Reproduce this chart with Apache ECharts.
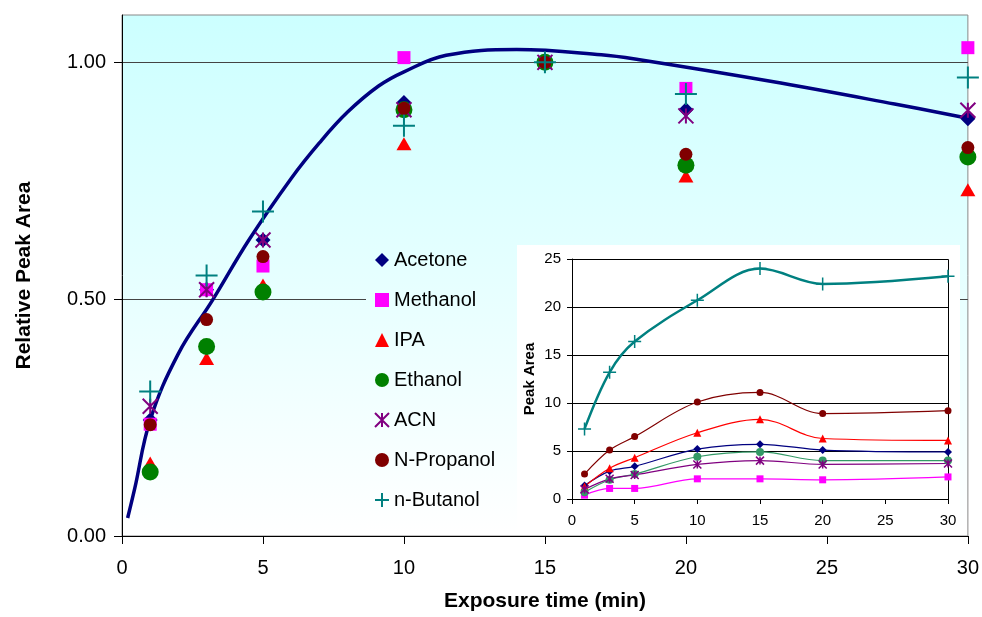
<!DOCTYPE html>
<html><head><meta charset="utf-8">
<script src="https://cdn.jsdelivr.net/npm/echarts@6/dist/echarts.min.js"></script>
<style>html,body{margin:0;padding:0;background:#fff}#c{width:982px;height:617px}</style>
</head><body><div id="c"></div>
<script>
// ---------- data ----------
const times = [1, 3, 5, 10, 15, 20, 30];
const seriesNames = ['Acetone', 'Methanol', 'IPA', 'Ethanol', 'ACN', 'N-Propanol', 'n-Butanol'];

// relative peak area (main chart)
const acetoneRel  = [0.245, 0.52, 0.625, 0.915, 1.00, 0.900, 0.881];
const methanolRel = [0.236, 0.52, 0.570, 1.010, 1.00, 0.945, 1.031];
const ipaRel      = [0.154, 0.375, 0.530, 0.828, 1.00, 0.760, 0.731];
const ethanolRel  = [0.135, 0.400, 0.515, 0.900, 1.00, 0.783, 0.800];
const acnRel      = [0.274, 0.520, 0.625, 0.900, 1.00, 0.887, 0.899];
const propanolRel = [0.235, 0.457, 0.590, 0.903, 1.00, 0.806, 0.820];
const butanolRel  = [0.305, 0.550, 0.685, 0.866, 1.00, 0.933, 0.968];

// fitted curve (main chart)
const fitTime = [0.2, 0.45, 1, 2, 3.2, 4.5, 6, 7, 8, 9.1, 10, 11.5, 14, 17, 18.3, 23, 27.4, 30];
const fitRel  = [0.038, 0.10, 0.245, 0.385, 0.497, 0.625, 0.755, 0.83, 0.895, 0.95, 0.98, 1.015, 1.027, 1.016, 1.006, 0.96, 0.912, 0.882];

// peak area (inset)
const acetoneArea  = [1.4, 2.9, 3.4, 5.2, 5.7, 5.1, 4.9];
const methanolArea = [0.4, 1.1, 1.1, 2.1, 2.1, 2.0, 2.3];
const ipaArea      = [1.3, 3.2, 4.3, 6.9, 8.3, 6.3, 6.1];
const ethanolArea  = [0.7, 2.0, 2.6, 4.4, 4.9, 4.0, 4.0];
const acnArea      = [1.0, 2.1, 2.5, 3.6, 4.0, 3.6, 3.7];
const propanolArea = [2.6, 5.1, 6.5, 10.1, 11.1, 8.9, 9.2];
const butanolArea  = [7.3, 13.2, 16.4, 20.7, 24.0, 22.4, 23.2];

const mainYTicks = [0, 0.5, 1.0];

// ---------- build ----------
const FONT = "'Liberation Sans', Arial, Helvetica, sans-serif";
const pair = (xs, ys) => xs.map((x, i) => [x, ys[i]]);
const STAR = 'path://M0,0L10,10M10,0L0,10M5,0L5,10';
const PLUS = 'path://M5,0L5,10M0,5L10,5';

const rel = [acetoneRel, methanolRel, ipaRel, ethanolRel, acnRel, propanolRel, butanolRel];
const area = [acetoneArea, methanolArea, ipaArea, ethanolArea, acnArea, propanolArea, butanolArea];
const sty = [
  {color: '#000080', inColor: '#000080', symbol: 'diamond', size: 15, inSize: 8, stroke: 0},
  {color: '#ff00ff', inColor: '#ff00ff', symbol: 'rect', size: 13, inSize: 7, stroke: 0},
  {color: '#ff0000', inColor: '#ff0000', symbol: 'triangle', size: [15, 13], inSize: 8, stroke: 0},
  {color: '#008000', inColor: '#339966', symbol: 'circle', size: 17, inSize: 8, stroke: 0},
  {color: '#800080', inColor: '#800080', symbol: STAR, size: 15, inSize: 8, stroke: 2},
  {color: '#800000', inColor: '#800000', symbol: 'circle', size: 13, inSize: 7, stroke: 0},
  {color: '#008080', inColor: '#008080', symbol: PLUS, size: 22, inSize: 13, stroke: 2}
];

const series = [{
  type: 'line', name: 'fit', xAxisIndex: 0, yAxisIndex: 0,
  data: pair(fitTime, fitRel), symbol: 'none', smooth: 0.4,
  lineStyle: {color: '#000080', width: 3.5}, z: 1, silent: true
}];
seriesNames.forEach((n, i) => {
  const s = sty[i];
  series.push({
    type: 'scatter', name: n, xAxisIndex: 0, yAxisIndex: 0,
    data: pair(times, rel[i]), symbol: s.symbol, symbolSize: s.size,
    itemStyle: {color: s.color, borderColor: s.color, borderWidth: s.stroke, opacity: 1}, z: 2
  });
});
seriesNames.forEach((n, i) => {
  const s = sty[i];
  series.push({
    type: 'line', name: n + ' area', xAxisIndex: 1, yAxisIndex: 1,
    data: pair(times, area[i]), smooth: 0.35, symbol: s.symbol, symbolSize: s.inSize,
    showSymbol: true,
    lineStyle: {color: s.inColor, width: i === 6 ? 2.5 : 1.2},
    itemStyle: {color: s.inColor, borderColor: s.inColor, borderWidth: s.stroke ? 1.5 : 0},
    z: 4
  });
});

const chart = echarts.init(document.getElementById('c'), null, {renderer: 'canvas'});
chart.setOption({
  animation: false,
  textStyle: {fontFamily: FONT},
  grid: [
    {left: 122, top: 15, right: 10, bottom: 78, show: true, borderColor: '#888', borderWidth: 1,
     backgroundColor: {type: 'linear', x: 0, y: 0, x2: 0, y2: 1,
       colorStops: [{offset: 0, color: '#ccffff'}, {offset: 1, color: '#ffffff'}]}},
    {left: 572, top: 259, right: 34, bottom: 118, show: false}
  ],
  xAxis: [
    {type: 'value', gridIndex: 0, min: 0, max: 30, interval: 5, z: 3,
     axisLine: {show: true, lineStyle: {color: '#000', width: 1}},
     axisTick: {show: true, length: 8, lineStyle: {color: '#000'}},
     axisLabel: {fontSize: 20, color: '#000', margin: 22, fontFamily: FONT},
     splitLine: {show: false},
     name: 'Exposure time (min)', nameLocation: 'middle', nameGap: 55,
     nameTextStyle: {fontSize: 21, fontWeight: 'bold', color: '#000', fontFamily: FONT}},
    {type: 'value', gridIndex: 1, min: 0, max: 30, interval: 5, z: 3,
     axisLine: {show: true, lineStyle: {color: '#000', width: 1}},
     axisTick: {show: true, length: 5, lineStyle: {color: '#000'}},
     axisLabel: {fontSize: 15, color: '#000', margin: 14, fontFamily: FONT},
     splitLine: {show: false}}
  ],
  yAxis: [
    {type: 'value', gridIndex: 0, min: 0, max: 1.1, interval: 0.5,
     axisLine: {show: true, lineStyle: {color: '#000', width: 1}},
     axisTick: {show: true, length: 8, lineStyle: {color: '#000'}, customValues: mainYTicks},
     axisLabel: {fontSize: 20, color: '#000', margin: 16, fontFamily: FONT,
                 customValues: mainYTicks, formatter: v => v.toFixed(2)},
     splitLine: {show: true, lineStyle: {color: '#444', width: 1}},
     name: 'Relative Peak Area', nameLocation: 'middle', nameGap: 87,
     nameTextStyle: {fontSize: 21, fontWeight: 'bold', color: '#000', fontFamily: FONT}},
    {type: 'value', gridIndex: 1, min: 0, max: 25, interval: 5, z: 3,
     axisLine: {show: true, lineStyle: {color: '#000', width: 1}},
     axisTick: {show: true, length: 5, lineStyle: {color: '#000'}},
     axisLabel: {fontSize: 15, color: '#000', margin: 11, fontFamily: FONT},
     splitLine: {show: true, lineStyle: {color: '#000', width: 1}},
     name: 'Peak Area', nameLocation: 'middle', nameGap: 35,
     nameTextStyle: {fontSize: 15, fontWeight: 'bold', color: '#000', fontFamily: FONT}}
  ],
  legend: {
    orient: 'vertical', left: 366, top: 245, padding: [5, 10, 5, 8],
    itemWidth: 14, itemHeight: 14, itemGap: 20, selectedMode: false, z: 5,
    textStyle: {fontSize: 20, color: '#000', fontFamily: FONT},
    data: seriesNames
  },
  graphic: {
    elements: [
      {type: 'rect', z: 1, silent: true, shape: {x: 366, y: 240, width: 151, height: 294},
       style: {fill: new echarts.graphic.LinearGradient(0, 0, 0, 1,
         [{offset: 0, color: '#e2ffff'}, {offset: 1, color: '#ffffff'}])}},
      {type: 'rect', z: 1, silent: true, shape: {x: 517, y: 245, width: 443, height: 289},
       style: {fill: '#ffffff'}},
      {type: 'rect', z: 3, silent: true, shape: {x: 572.5, y: 259.5, width: 376, height: 240},
       style: {fill: 'none', stroke: '#000', lineWidth: 1}}
    ]
  },
  series: series
});
</script>
</body></html>
